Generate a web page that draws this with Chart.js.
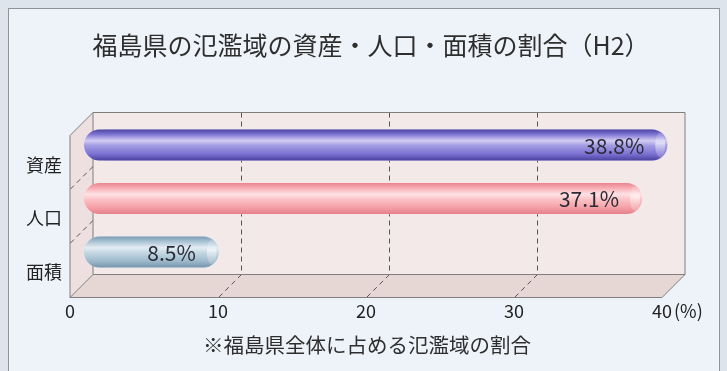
<!DOCTYPE html>
<html>
<head>
<meta charset="utf-8">
<script src="https://cdn.jsdelivr.net/npm/chart.js@4"></script>
<style>
  html, body { margin: 0; padding: 0; background: #dde4ec; }
  canvas { display: block; }
</style>
</head>
<body>
<canvas id="chartCanvas" width="727" height="371"></canvas>
<script>
// data
const categories = ["資産", "人口", "面積"];
const shares = [38.8, 37.1, 8.5];
const xTicks = [0, 10, 20, 30, 40];

const titleText = "福島県の氾濫域の資産・人口・面積の割合（H2）";
const noteText = "※福島県全体に占める氾濫域の割合";
const FONT = '"Noto Sans CJK JP", "Noto Sans", sans-serif';

// cylinder colours (top -> bottom)
const barStops = [
  ["#4c44a2", "#7b71d1", "#d2cdf3", "#a39be3", "#7d73d4", "#4a429e"],
  ["#e8848f", "#f6a9af", "#ffe2e5", "#fbc4c8", "#f5a1a8", "#e4808a"],
  ["#7a9ab2", "#a6c0d1", "#e3edf3", "#c4d7e3", "#a0bbcd", "#7695ab"]
];
const stopPos = [0, 0.15, 0.36, 0.52, 0.78, 1];

const DEPTH = 23;

const canvas = document.getElementById("chartCanvas");

// ===============================
// BOX / FRAME / TEXT
// ===============================
const boxPlugin = {
  id: "box3d",
  beforeDraw(chart) {
    const ctx = chart.ctx;
    ctx.save();
    ctx.fillStyle = "#dde4ec";
    ctx.fillRect(0, 0, chart.width, chart.height);
    ctx.fillStyle = "#eef3f9";
    ctx.fillRect(8.5, 8.5, 711, 380);
    ctx.strokeStyle = "#8d939b";
    ctx.lineWidth = 1;
    ctx.strokeRect(8.5, 8.5, 711, 380);

    ctx.fillStyle = "#2e2e2e";
    ctx.textAlign = "center";
    ctx.textBaseline = "middle";
    ctx.font = "25px " + FONT;
    ctx.fillText(titleText, 371, 45);
    ctx.font = "20.5px " + FONT;
    ctx.fillText(noteText, 367, 345);
    ctx.restore();
  },
  beforeDatasetsDraw(chart) {
    const ctx = chart.ctx;
    const a = chart.chartArea;
    const xs = chart.scales.x;
    const L = xs.getPixelForValue(xTicks[0]);
    const R = xs.getPixelForValue(xTicks[xTicks.length - 1]);
    const T = Math.round(a.top - 6) + 0.5;
    const B = Math.round(a.bottom - 5) + 0.5;
    const d = DEPTH;

    ctx.save();
    // back wall
    ctx.fillStyle = "#f4e9e9";
    ctx.fillRect(L, T, R - L, B - T);
    // left wall
    ctx.fillStyle = "#eee0e0";
    ctx.beginPath();
    ctx.moveTo(L, T); ctx.lineTo(L, B); ctx.lineTo(L - d, B + d); ctx.lineTo(L - d, T + d);
    ctx.closePath(); ctx.fill();
    // floor
    ctx.fillStyle = "#e6d7d5";
    ctx.beginPath();
    ctx.moveTo(L, B); ctx.lineTo(R, B); ctx.lineTo(R - d, B + d); ctx.lineTo(L - d, B + d);
    ctx.closePath(); ctx.fill();

    // dashed grid on back wall + floor
    ctx.strokeStyle = "#555";
    ctx.lineWidth = 1;
    ctx.setLineDash([5, 4]);
    xTicks.slice(1, -1).forEach(v => {
      const x = Math.round(xs.getPixelForValue(v)) + 0.5;
      ctx.beginPath();
      ctx.moveTo(x, T); ctx.lineTo(x, B); ctx.lineTo(x - d, B + d);
      ctx.stroke();
    });
    // dashed lines on left wall between categories
    for (let k = 1; k < categories.length; k++) {
      const y = T + (B - T) * k / categories.length;
      ctx.beginPath();
      ctx.moveTo(L, y); ctx.lineTo(L - d, y + d);
      ctx.stroke();
    }
    ctx.setLineDash([]);

    // solid edges
    ctx.strokeStyle = "#7e7e7e";
    ctx.beginPath();
    ctx.moveTo(L - d, B + d); ctx.lineTo(L - d, T + d); ctx.lineTo(L, T);
    ctx.lineTo(R, T); ctx.lineTo(R, B); ctx.lineTo(R - d, B + d); ctx.lineTo(L - d, B + d);
    ctx.moveTo(L, T); ctx.lineTo(L, B); ctx.lineTo(R, B);
    ctx.moveTo(L, B); ctx.lineTo(L - d, B + d);
    ctx.stroke();
    ctx.restore();
  },
  afterDatasetsDraw(chart) {
    const ctx = chart.ctx;
    const meta = chart.getDatasetMeta(0);
    ctx.save();
    meta.data.forEach((bar, i) => {
      const h = bar.height;
      const r = h / 2;
      const x0 = bar.base - 9;
      const x1 = bar.x;
      const y0 = bar.y - r;
      const g = ctx.createLinearGradient(0, y0, 0, y0 + h);
      barStops[i].forEach((c, k) => g.addColorStop(stopPos[k], c));
      ctx.fillStyle = g;
      ctx.beginPath();
      ctx.moveTo(x0 + r, y0);
      ctx.lineTo(x1 - r, y0);
      ctx.arc(x1 - r, bar.y, r, -Math.PI / 2, Math.PI / 2);
      ctx.lineTo(x0 + r, y0 + h);
      ctx.arc(x0 + r, bar.y, r, Math.PI / 2, Math.PI * 1.5);
      ctx.closePath();
      ctx.fill();

      // end face of the cylinder
      ctx.globalAlpha = 0.55;
      const g2 = ctx.createLinearGradient(0, y0, 0, y0 + h);
      g2.addColorStop(0, barStops[i][1]);
      g2.addColorStop(0.45, "#ffffff");
      g2.addColorStop(1, barStops[i][4]);
      ctx.fillStyle = g2;
      ctx.beginPath();
      ctx.ellipse(x1 - 7, bar.y, 5, r - 3, 0, 0, Math.PI * 2);
      ctx.fill();
      ctx.globalAlpha = 1;

      // value label
      ctx.fillStyle = "#2b2b36";
      ctx.font = "21px " + FONT;
      ctx.textAlign = "right";
      ctx.textBaseline = "middle";
      ctx.fillText(shares[i].toFixed(1) + "%", x1 - 23, bar.y + 1);
    });

    // unit after last tick
    const xs = chart.scales.x;
    const lastX = xs.getPixelForValue(xTicks[xTicks.length - 1]) - DEPTH;
    ctx.fillStyle = "#222";
    ctx.font = "18px " + FONT;
    ctx.textAlign = "left";
    ctx.textBaseline = "middle";
    ctx.fillText("(%)", lastX + 12, 311);
    ctx.restore();
  }
};

// ===============================
// CHART
// ===============================
const chart = new Chart(canvas, {
  type: "bar",
  data: {
    labels: categories,
    datasets: [{
      data: shares,
      backgroundColor: barStops.map(s => s[2]),
      barThickness: 31,
      borderRadius: 15,
      borderSkipped: false
    }]
  },
  options: {
    indexAxis: "y",
    responsive: false,
    animation: false,
    devicePixelRatio: 1,
    layout: { padding: { top: 118.25, right: 42, bottom: 0, left: 0 } },
    plugins: {
      legend: { display: false },
      tooltip: { enabled: false }
    },
    scales: {
      x: {
        min: xTicks[0],
        max: xTicks[xTicks.length - 1],
        afterBuildTicks: s => { s.ticks = xTicks.map(v => ({ value: v })); },
        ticks: {
          labelOffset: -DEPTH,
          padding: 22,
          color: "#222",
          font: { family: FONT, size: 18 }
        },
        grid: { display: false, drawTicks: false },
        border: { display: false },
        afterFit: s => { s.height = 92.25; }
      },
      y: {
        ticks: {
          labelOffset: 20,
          padding: 31,
          color: "#222",
          font: { family: FONT, size: 18 }
        },
        grid: { display: false, drawTicks: false },
        border: { display: false },
        afterFit: s => { s.width = 93; }
      }
    }
  },
  plugins: [boxPlugin]
});
</script>
</body>
</html>
